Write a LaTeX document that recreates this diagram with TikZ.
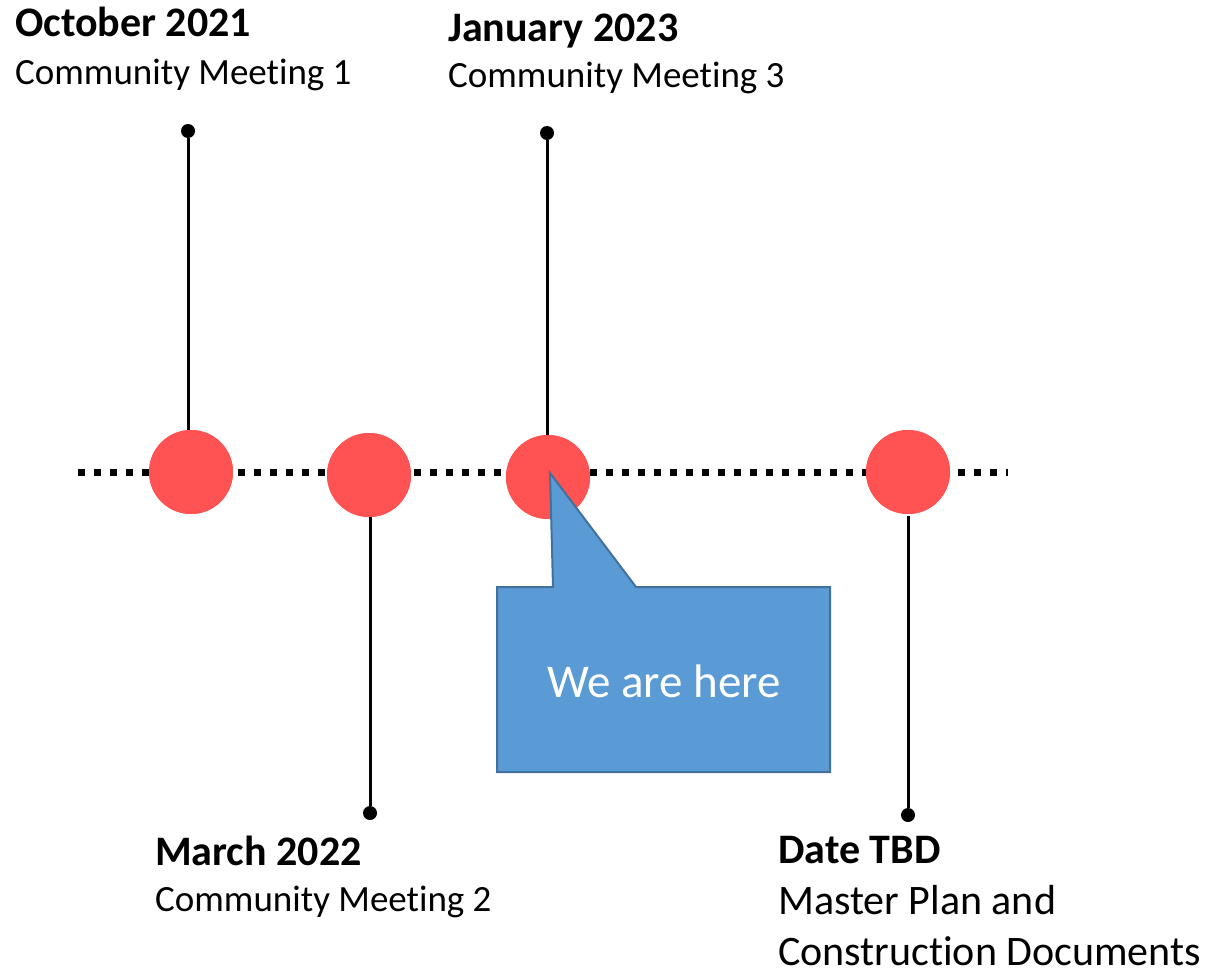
\documentclass[tikz,border=0pt]{standalone}
\usepackage{fontspec}
\setmainfont{Carlito}[Ligatures=NoCommon]
\definecolor{dotred}{RGB}{255,82,82}
\definecolor{callfill}{RGB}{91,155,213}
\definecolor{calledge}{RGB}{65,113,156}
\tikzset{
  milestone/.style={circle, fill=dotred, minimum size=84pt, inner sep=0pt},
  pin/.style={circle, fill=black, minimum size=14pt, inner sep=0pt},
  stem/.style={line width=3pt, black},
  axis/.style={line width=7pt, black, dash pattern=on 7pt off 9pt},
  title/.style={anchor=base west, inner sep=0pt, font=\fontsize{42}{52}\selectfont\bfseries},
  sub/.style={anchor=base west, inner sep=0pt, font=\fontsize{37}{46}\selectfont},
  subbig/.style={anchor=base west, inner sep=0pt, font=\fontsize{42}{52}\selectfont},
  callout/.style={fill=callfill, draw=calledge, line width=2pt, line join=miter}
}
\begin{document}
\begin{tikzpicture}[x=1pt, y=-1pt]
\useasboundingbox (0,0) rectangle (1214,971);
% timeline
\coordinate (L) at (78,472);
\coordinate (R) at (1008,472);
\draw[axis] (L) -- (R);
% pins
\node[pin] (d1) at (188,131) {};
\node[pin] (d2) at (370,813) {};
\node[pin] (d3) at (547,133) {};
\node[pin] (d4) at (908,815) {};
% milestones
\node[milestone] (c1) at (191,472) {};
\node[milestone] (c2) at (369,475) {};
\node[milestone] (c3) at (548,477) {};
\node[milestone] (c4) at (908,472) {};
% stems
\draw[stem] (d1) -- (188,431);
\draw[stem] (d2) -- (370,516);
\draw[stem] (d3) -- (547,436);
\draw[stem] (d4) -- (908,516);
% redraw circles over stems
\node[milestone] at (c1) {};
\node[milestone] at (c2) {};
\node[milestone] at (c3) {};
\node[milestone] at (c4) {};
% callout
\draw[callout] (550,473) -- (636,587) -- (830,587) -- (830,772) -- (497,772) -- (497,587) -- (553,587) -- cycle;
\node[text=white, inner sep=0pt, font=\fontsize{47}{56}\selectfont] (here) at (664,681) {We are here};
% labels
\node[title] (t1) at (15,37) {October 2021};
\node[sub] (s1) at (15,85) {Community Meeting 1};
\node[title] (t3) at (448,42) {January 2023};
\node[sub] (s3) at (448,88) {Community Meeting 3};
\node[title] (t2) at (155,865) {March 2022};
\node[sub] (s2) at (155,911) {Community Meeting 2};
\node[title] (t4) at (778,863) {Date TBD};
\node[subbig] (s4a) at (778,914) {Master Plan and};
\node[subbig] (s4b) at (778,965) {Construction Documents};
\end{tikzpicture}
\end{document}
